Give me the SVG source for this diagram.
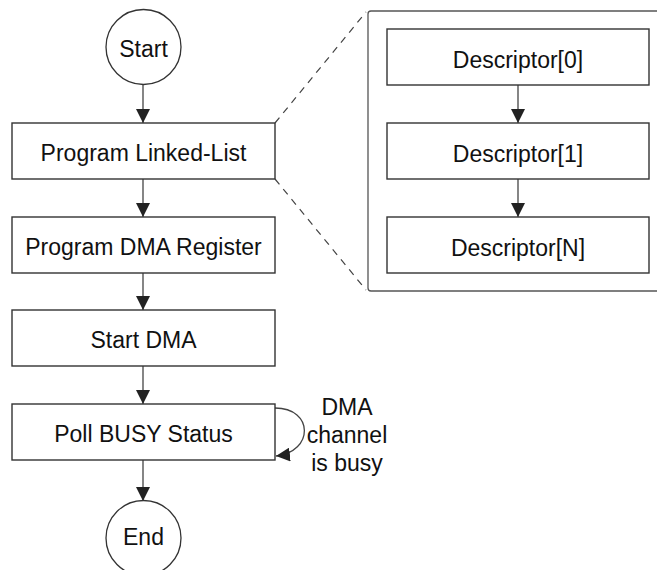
<svg xmlns="http://www.w3.org/2000/svg" width="657" height="570" viewBox="0 0 657 570">
<defs>
<style>
.box{fill:#fff;stroke:#333;stroke-width:1.4}
.lbl{font-family:"Liberation Sans",Arial,sans-serif;font-size:23px;fill:#111;text-anchor:middle}
.con{fill:none;stroke:#444;stroke-width:1.3}
.dash{fill:none;stroke:#444;stroke-width:1.2;stroke-dasharray:7,6}
</style>
<marker id="ah" viewBox="0 0 14 14" refX="14" refY="7" markerWidth="14" markerHeight="14" markerUnits="userSpaceOnUse" orient="auto">
<path d="M0,0 L14,7 L0,14 z" fill="#222"/>
</marker>
</defs>
<rect width="657" height="570" fill="#fff"/>
<g id="container">
<path d="M657,11 L371,11 Q368,11 368,14 L368,288 Q368,291 371,291 L657,291" fill="none" stroke="#555" stroke-width="1.3"/>
</g>
<g id="connectors">
<line class="con" x1="143" y1="85" x2="143" y2="123" marker-end="url(#ah)"/>
<line class="con" x1="143" y1="179" x2="143" y2="217" marker-end="url(#ah)"/>
<line class="con" x1="143" y1="273" x2="143" y2="310" marker-end="url(#ah)"/>
<line class="con" x1="143" y1="366" x2="143" y2="404" marker-end="url(#ah)"/>
<line class="con" x1="143" y1="460" x2="143" y2="501" marker-end="url(#ah)"/>
<line class="con" x1="518" y1="85" x2="518" y2="123" marker-end="url(#ah)"/>
<line class="con" x1="518" y1="179" x2="518" y2="217" marker-end="url(#ah)"/>
<path class="con" d="M275,408 C314,408 314,452 276,456" marker-end="url(#ah)"/>
<line class="dash" x1="275" y1="123" x2="366" y2="12"/>
<line class="dash" x1="275" y1="179" x2="366" y2="290"/>
</g>
<g id="start">
<circle cx="143.5" cy="47" r="37.5" fill="#fff" stroke="#333" stroke-width="1.3"/>
<text class="lbl" x="143.5" y="57">Start</text>
</g>
<g id="program-linked-list">
<rect class="box" x="12" y="123" width="263" height="56"/>
<text class="lbl" x="143.5" y="161">Program Linked-List</text>
</g>
<g id="program-dma-register">
<rect class="box" x="12" y="217" width="263" height="56"/>
<text class="lbl" x="143.5" y="255">Program DMA Register</text>
</g>
<g id="start-dma">
<rect class="box" x="12" y="310" width="263" height="56"/>
<text class="lbl" x="143.5" y="348">Start DMA</text>
</g>
<g id="poll-busy">
<rect class="box" x="12" y="404" width="263" height="56"/>
<text class="lbl" x="143.5" y="442">Poll BUSY Status</text>
</g>
<g id="end">
<circle cx="143.5" cy="538" r="37.5" fill="#fff" stroke="#333" stroke-width="1.3"/>
<text class="lbl" x="143.5" y="545">End</text>
</g>
<g id="busy-label">
<text class="lbl" x="347" y="415">DMA</text>
<text class="lbl" x="347" y="443">channel</text>
<text class="lbl" x="347" y="471">is busy</text>
</g>
<g id="descriptor-0">
<rect class="box" x="387" y="29" width="262" height="56"/>
<text class="lbl" x="518" y="68">Descriptor[0]</text>
</g>
<g id="descriptor-1">
<rect class="box" x="387" y="123" width="262" height="56"/>
<text class="lbl" x="518" y="162">Descriptor[1]</text>
</g>
<g id="descriptor-n">
<rect class="box" x="387" y="217" width="262" height="56"/>
<text class="lbl" x="518" y="256">Descriptor[N]</text>
</g>
</svg>
